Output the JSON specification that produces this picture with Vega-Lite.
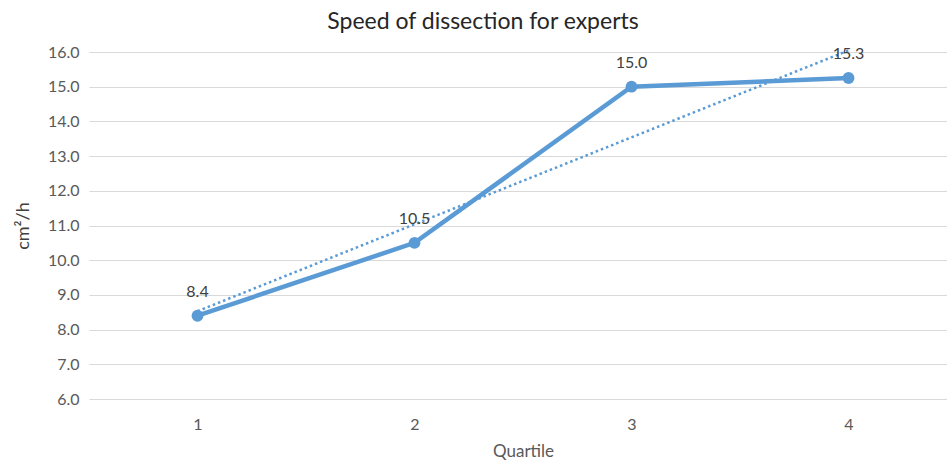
{
  "$schema": "https://vega.github.io/schema/vega-lite/v6.json",
  "autosize": {"type": "none"},
  "padding": {"left": 89, "top": 52, "right": 0, "bottom": 65},
  "width": 868,
  "height": 347,
  "background": "white",
  "config": {
    "view": {"stroke": null},
    "font": "Lato"
  },
  "title": {
    "text": "Speed of dissection for experts",
    "font": "Lato",
    "fontSize": 23,
    "fontWeight": "normal",
    "color": "#262626",
    "anchor": "middle",
    "dx": -40,
    "offset": 10
  },
  "data": {
    "values": [
      {"quartile": 1, "speed": 8.4},
      {"quartile": 2, "speed": 10.5},
      {"quartile": 3, "speed": 15.0},
      {"quartile": 4, "speed": 15.25}
    ]
  },
  "encoding": {
    "x": {
      "field": "quartile",
      "type": "quantitative",
      "scale": {"domain": [0.5, 4.5], "nice": false, "zero": false},
      "axis": {
        "values": [1, 2, 3, 4],
        "format": "d",
        "title": "Quartile",
        "grid": false,
        "domain": false,
        "ticks": false,
        "labelFont": "Lato",
        "labelFontSize": 16,
        "labelColor": "#595959",
        "labelPadding": 17,
        "titleFont": "Lato",
        "titleFontSize": 17,
        "titleFontWeight": "normal",
        "titleColor": "#595959",
        "titlePadding": 11
      }
    },
    "y": {
      "field": "speed",
      "type": "quantitative",
      "scale": {"domain": [6, 16], "nice": false, "zero": false},
      "axis": {
        "values": [6, 7, 8, 9, 10, 11, 12, 13, 14, 15, 16],
        "format": ".1f",
        "title": "cm²/h",
        "grid": true,
        "gridColor": "#d9d9d9",
        "gridWidth": 1.2,
        "domain": false,
        "ticks": false,
        "labelFont": "Lato",
        "labelFontSize": 16,
        "labelColor": "#595959",
        "labelPadding": 10,
        "titleFont": "Lato",
        "titleFontSize": 18,
        "titleFontWeight": "normal",
        "titleColor": "#404040",
        "titlePadding": 15
      }
    }
  },
  "layer": [
    {
      "transform": [{"regression": "speed", "on": "quartile", "extent": [1, 4]}],
      "mark": {"type": "line", "color": "#5B9BD5", "strokeWidth": 2.5, "strokeDash": [2.5, 3]}
    },
    {
      "mark": {"type": "line", "color": "#5B9BD5", "strokeWidth": 4.5, "point": {"filled": true, "size": 140, "color": "#5B9BD5"}}
    },
    {
      "mark": {"type": "text", "dy": -24, "fontSize": 16, "font": "Lato", "color": "#404040"},
      "encoding": {"text": {"field": "speed", "type": "quantitative", "format": ".1f"}}
    }
  ]
}
